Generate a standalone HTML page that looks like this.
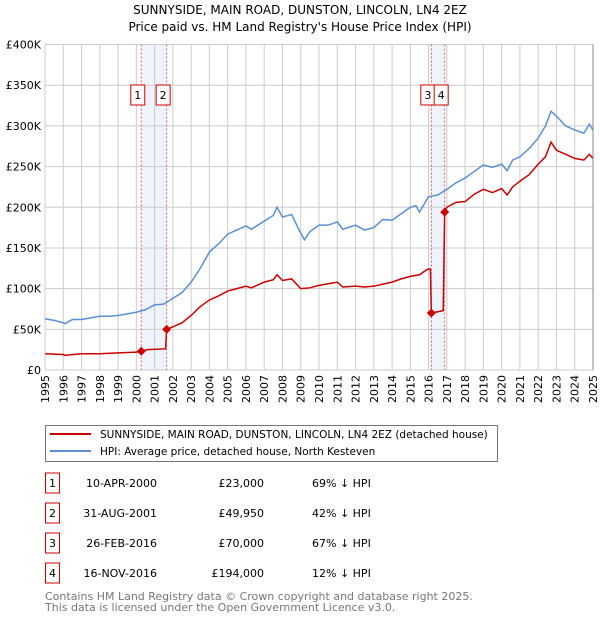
<!DOCTYPE html>
<html><head><meta charset="utf-8"><style>
body{margin:0;background:#fff;font-family:"DejaVu Sans","Liberation Sans",sans-serif;}
#wrap{position:relative;width:600px;height:620px;overflow:hidden}
svg text{font-family:"DejaVu Sans","Liberation Sans",sans-serif}
</style></head><body>
<div id="wrap">
<svg id="c" width="600" height="620" xmlns="http://www.w3.org/2000/svg">
<text x="300" y="14" text-anchor="middle" font-size="12" fill="#000">SUNNYSIDE, MAIN ROAD, DUNSTON, LINCOLN, LN4 2EZ</text>
<text x="300" y="31" text-anchor="middle" font-size="12" fill="#000">Price paid vs. HM Land Registry's House Price Index (HPI)</text>
<g id="grid"></g><g id="marks"></g><g id="axes"></g>
<g>
<rect x="45.5" y="425.5" width="452" height="36" fill="#fff" stroke="#777"/>
<line x1="50" y1="434" x2="91" y2="434" stroke="#cc0000" stroke-width="2"/>
<text x="100" y="438" font-size="10.5">SUNNYSIDE, MAIN ROAD, DUNSTON, LINCOLN, LN4 2EZ (detached house)</text>
<line x1="50" y1="451" x2="91" y2="451" stroke="#5b8fd4" stroke-width="2"/>
<text x="100" y="455" font-size="10.5">HPI: Average price, detached house, North Kesteven</text>
</g>
<g id="table"></g>
<text x="45" y="600" font-size="11" fill="#777">Contains HM Land Registry data © Crown copyright and database right 2025.</text>
<text x="45" y="611" font-size="11" fill="#777">This data is licensed under the Open Government Licence v3.0.</text>
</svg></div>
<script>
const yTicks=[0,50,100,150,200,250,300,350,400];
const yTickLabels=["£0","£50K","£100K","£150K","£200K","£250K","£300K","£350K","£400K"];
const years=[1995,1996,1997,1998,1999,2000,2001,2002,2003,2004,2005,2006,2007,2008,2009,2010,2011,2012,2013,2014,2015,2016,2017,2018,2019,2020,2021,2022,2023,2024,2025];
const hpiT=[1995,1995.5,1996,1996.1,1996.5,1997,1997.5,1998,1998.5,1999,1999.5,2000,2000.5,2001,2001.5,2002,2002.5,2003,2003.5,2004,2004.5,2005,2005.5,2006,2006.3,2007,2007.5,2007.7,2008,2008.5,2009,2009.2,2009.5,2010,2010.5,2011,2011.3,2012,2012.5,2013,2013.5,2014,2014.5,2015,2015.3,2015.5,2016,2016.5,2017,2017.5,2018,2018.5,2019,2019.5,2020,2020.3,2020.6,2021,2021.5,2022,2022.4,2022.7,2023,2023.5,2024,2024.5,2024.8,2025];
const hpiV=[63,61,58,57,62,62,64,66,66,67,69,71,74,80,81,88,95,108,125,145,155,167,172,177,173,183,190,200,188,191,168,160,170,178,178,182,173,178,172,175,185,184,192,200,202,194,213,215,222,230,236,244,252,249,253,245,258,262,272,285,300,318,312,300,295,291,302,295];
const redT=[1995,1996,1996.1,1997,1998,1999,2000,2000.27,2000.6,2001.6,2001.66,2002,2002.5,2003,2003.5,2004,2004.5,2005,2005.5,2006,2006.3,2007,2007.5,2007.7,2008,2008.5,2009,2009.5,2010,2010.5,2011,2011.3,2012,2012.5,2013,2014,2014.5,2015,2015.5,2015.95,2016.1,2016.15,2016.8,2016.88,2017,2017.5,2018,2018.5,2019,2019.5,2020,2020.3,2020.6,2021,2021.5,2022,2022.4,2022.7,2023,2023.5,2024,2024.5,2024.8,2025];
const redV=[20,19,18,20,20,21,22,23,25,26,49.95,53,58,67,78,86,91,97,100,103,101,108,111,117,110,112,100,101,104,106,108,102,103,102,103,108,112,115,117,124,124,70,73,194,200,206,207,216,222,218,223,215,225,232,240,253,262,280,270,265,260,258,265,260];
const saleT=[2000.27,2001.66,2016.15,2016.88];
const saleV=[23,49.95,70,194];
const saleDates=["10-APR-2000","31-AUG-2001","26-FEB-2016","16-NOV-2016"];
const salePrices=["£23,000","£49,950","£70,000","£194,000"];
const saleDiff=["69% ↓ HPI","42% ↓ HPI","67% ↓ HPI","12% ↓ HPI"];
const X0=45,X1=593,Y0=370,Y1=44.5;
const xs=t=>X0+(t-1995)/30*(X1-X0);
const ys=v=>Y0-(v/400)*(Y0-Y1);
const NS="http://www.w3.org/2000/svg";
function mk(tag,parent,attrs){const e=document.createElementNS(NS,tag);for(const k in attrs)e.setAttribute(k,attrs[k]);parent.appendChild(e);return e;}
const grid=document.getElementById('grid'),marks=document.getElementById('marks'),axes=document.getElementById('axes'),table=document.getElementById('table');
for(let i=0;i<2;i++){const a=saleT[i*2],b=saleT[i*2+1];
 const r=mk('rect',grid,{x:xs(a),y:Y1,width:xs(b)-xs(a),height:Y0-Y1,fill:'#eef3fc'});
 
 }
yTicks.forEach((v,i)=>{
 const l=mk('line',grid,{x1:X0,x2:X1,y1:ys(v),y2:ys(v),stroke:'#ccc','stroke-width':1});
 
 
 const t=mk('text',axes,{x:X0-4,y:ys(v)+4,'text-anchor':'end','font-size':11});
 
 
 t.textContent=yTickLabels[i];});
years.forEach(y=>{
 const l=mk('line',grid,{x1:xs(y),x2:xs(y),y1:Y1,y2:Y0,stroke:'#ccc','stroke-width':1});
 
 
 const t=mk('text',axes,{x:0,y:0,'text-anchor':'end','font-size':11,transform:`translate(${xs(y)+4},${Y0+5}) rotate(-90)`});
 
 
 t.textContent=y;});
saleT.forEach(t=>{const l=mk('line',grid,{x1:xs(t),x2:xs(t),y1:Y1,y2:Y0,stroke:'#e06060','stroke-width':1,'stroke-dasharray':'2,2'});
 
 });
const hp=mk('polyline',marks,{points:hpiT.map((t,i)=>xs(t)+','+ys(hpiV[i])).join(' '),fill:'none',stroke:'#5b8fd4','stroke-width':1.5});


const rp=mk('polyline',marks,{points:redT.map((t,i)=>xs(t)+','+ys(redV[i])).join(' '),fill:'none',stroke:'#cc0000','stroke-width':1.5});


saleT.forEach((t,i)=>{
 const x=xs(t),y=ys(saleV[i]);
 const d=mk('polygon',marks,{points:`${x},${y-4.5} ${x+4.5},${y} ${x},${y+4.5} ${x-4.5},${y}`,fill:'#cc0000'});
 
 
 const g=mk('g',marks,{});
 
 
 const bx=x-3.5-7;
 mk('rect',g,{x:bx,y:85,width:14,height:20,fill:'#fff',stroke:'#cc0000','stroke-width':1});
 const tt=mk('text',g,{x:bx+7,y:99,'text-anchor':'middle','font-size':11});tt.textContent=i+1;
 const ry=473+i*30;
 const row=mk('g',table,{});
 
 
 mk('rect',row,{x:45.5,y:ry,width:14,height:20,fill:'#fff',stroke:'#cc0000','stroke-width':1});
 const n=mk('text',row,{x:52.5,y:ry+14,'text-anchor':'middle','font-size':11});n.textContent=i+1;
 const a=mk('text',row,{x:157,y:ry+14,'text-anchor':'end','font-size':11});a.textContent=saleDates[i];
 const b=mk('text',row,{x:264,y:ry+14,'text-anchor':'end','font-size':11});b.textContent=salePrices[i];
 const c=mk('text',row,{x:312,y:ry+14,'font-size':11});c.textContent=saleDiff[i];
});
mk('line',axes,{x1:X1,x2:X1,y1:Y1,y2:Y0,stroke:'#888','stroke-width':1});
</script>
</body></html>
